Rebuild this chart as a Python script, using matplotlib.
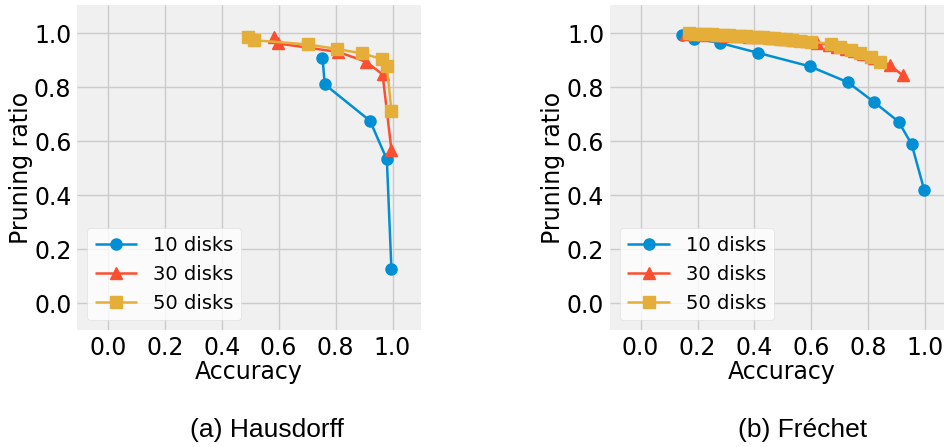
import matplotlib
matplotlib.use("Agg")
import matplotlib.pyplot as plt

plt.style.use("fivethirtyeight")
plt.rcParams["font.family"] = ["DejaVu Sans"]

colors = ["#008fd5", "#fc4f30", "#e5ae38"]
labels = ["10 disks", "30 disks", "50 disks"]
markers = ["o", "^", "s"]

# (a) Hausdorff
haus_10_x = [0.754, 0.762, 0.921, 0.980, 0.996]
haus_10_y = [0.909, 0.810, 0.675, 0.532, 0.127]
haus_30_x = [0.582, 0.596, 0.810, 0.907, 0.965, 0.996]
haus_30_y = [0.985, 0.962, 0.930, 0.894, 0.847, 0.567]
haus_50_x = [0.494, 0.512, 0.702, 0.806, 0.893, 0.962, 0.980, 0.996]
haus_50_y = [0.986, 0.974, 0.958, 0.941, 0.925, 0.904, 0.878, 0.712]

# (b) Frechet
frec_10_x = [0.144, 0.186, 0.278, 0.412, 0.594, 0.728, 0.818, 0.906, 0.952, 0.996]
frec_10_y = [0.993, 0.980, 0.964, 0.927, 0.877, 0.818, 0.746, 0.672, 0.588, 0.419]
frec_30_x = [0.16, 0.19, 0.22, 0.26, 0.30, 0.34, 0.38, 0.42, 0.46, 0.50, 0.54,
             0.58, 0.62, 0.66, 0.69, 0.72, 0.75, 0.78, 0.82, 0.876, 0.92]
frec_30_y = [0.996, 0.995, 0.994, 0.993, 0.991, 0.989, 0.987, 0.985, 0.982, 0.979, 0.975,
             0.970, 0.964, 0.957, 0.950, 0.942, 0.933, 0.922, 0.908, 0.881, 0.844]
frec_50_x = [0.17, 0.19, 0.21, 0.23, 0.25, 0.27, 0.29, 0.31, 0.33, 0.35, 0.37, 0.39,
             0.41, 0.43, 0.45, 0.47, 0.49, 0.51, 0.53, 0.56, 0.60, 0.67, 0.70, 0.74,
             0.77, 0.81, 0.84]
frec_50_y = [0.999, 0.998, 0.997, 0.996, 0.995, 0.994, 0.993, 0.992, 0.991, 0.990, 0.989, 0.987,
             0.986, 0.985, 0.983, 0.981, 0.979, 0.977, 0.975, 0.972, 0.968, 0.960, 0.950, 0.937,
             0.925, 0.912, 0.894]

ticks = [0.0, 0.2, 0.4, 0.6, 0.8, 1.0]
captions = ["(a) Hausdorff", "(b) Fr\u00e9chet"]

fig = plt.figure(figsize=(9.44, 4.47), dpi=100)
fig.patch.set_facecolor("white")

positions = [[0.0816, 0.2617, 0.3644, 0.727], [0.646, 0.2617, 0.3644, 0.727]]
datasets = [
    [(haus_10_x, haus_10_y), (haus_30_x, haus_30_y), (haus_50_x, haus_50_y)],
    [(frec_10_x, frec_10_y), (frec_30_x, frec_30_y), (frec_50_x, frec_50_y)],
]
cap_x = [0.283, 0.85]

for pos, data, cap, cx in zip(positions, datasets, captions, cap_x):
    ax = fig.add_axes(pos)
    ax.set_facecolor("#f0f0f0")
    for (xs, ys), c, m, lab in zip(data, colors, markers, labels):
        ax.plot(xs, ys, color=c, marker=m, markersize=8, linewidth=1.8, label=lab)
    ax.set_xlim(-0.108, 1.1)
    ax.set_ylim(-0.1, 1.104)
    ax.set_xticks(ticks)
    ax.set_yticks(ticks)
    ax.tick_params(labelsize=17, length=0, pad=4)
    ax.set_xlabel("Accuracy", fontsize=17, labelpad=0)
    ax.set_ylabel("Pruning ratio", fontsize=17, labelpad=1)
    ax.grid(True, color="#cbcbcb", linewidth=1.0)
    for s in ax.spines.values():
        s.set_visible(False)
    leg = ax.legend(loc="lower left", fontsize=14, frameon=True, handlelength=2.2,
                    borderaxespad=0.5)
    leg.get_frame().set_facecolor("white")
    leg.get_frame().set_alpha(0.8)
    leg.get_frame().set_edgecolor("#dddddd")
    fig.text(cx, 0.038, cap, fontsize=19, family="Liberation Sans",
             ha="center", va="center")

fig.savefig("out.png", dpi=100, facecolor="white")
